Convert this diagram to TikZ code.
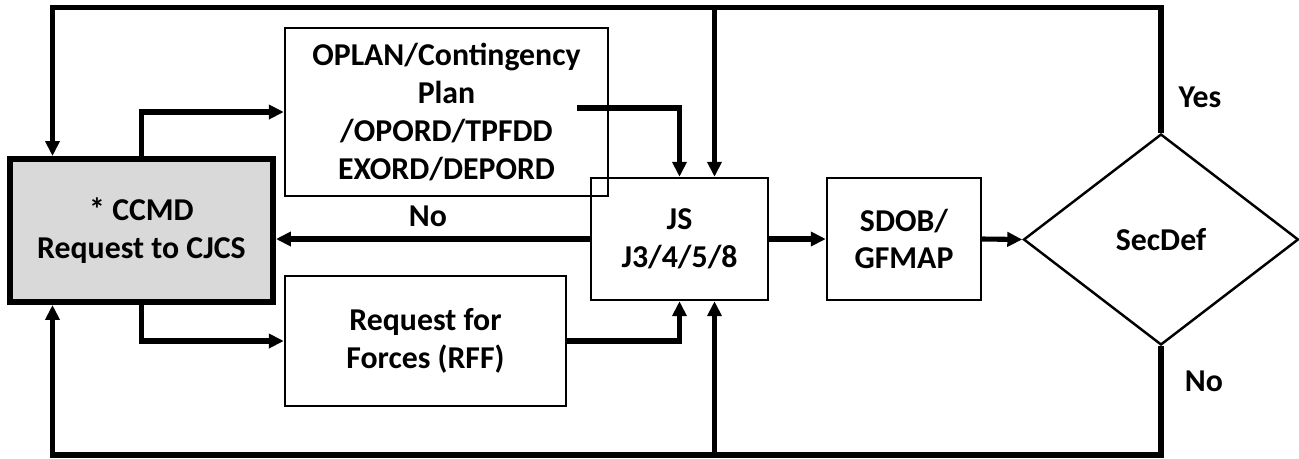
\documentclass[tikz,border=0pt]{standalone}
\usepackage{fontspec}
\setmainfont{Carlito}
\definecolor{ccmdgray}{RGB}{217, 217, 217}
\usetikzlibrary{shapes.geometric, arrows.meta, positioning, calc}
\tikzset{
    stepbox/.style={rectangle, draw=black, line width=1.4pt, fill=white, inner sep=0pt,
                    align=center, font=\bfseries\fontsize{18.1}{21.5}\selectfont},
    ccmdbox/.style={stepbox, fill=ccmdgray, line width=3.4pt},
    decision/.style={diamond, draw=black, line width=1.4pt, inner sep=0pt, aspect=1.3,
                     font=\bfseries\fontsize{18.1}{21.5}\selectfont},
    lbl/.style={font=\bfseries\fontsize{18.1}{21.5}\selectfont},
    arrow/.style={-{Triangle[length=3mm, width=2.8mm]}, line width=2.9pt},
}
\begin{document}
\begin{tikzpicture}[x=0.02cm, y=-0.02cm]
            \useasboundingbox (0,0) rectangle (1299,458);
            % Boxes
            \node[ccmdbox, minimum width=5.26cm, minimum height=2.86cm] (ccmd) at (141.5, 230.5) {* CCMD\\Request to CJCS};
            \node[stepbox, minimum width=6.46cm, minimum height=3.36cm] (oplan) at (446.5, 112) {OPLAN/Contingency\\Plan\\/OPORD/TPFDD\\EXORD/DEPORD};
            \node[stepbox, minimum width=5.62cm, minimum height=2.6cm] (rff) at (425.5, 341) {Request for\\Forces (RFF)};
            \node[stepbox, fill=none, minimum width=3.54cm, minimum height=2.44cm] (js) at (679.5, 239) {JS\\J3/4/5/8};
            \node[stepbox, minimum width=3.08cm, minimum height=2.44cm] (sdob) at (904, 239) {SDOB/\\GFMAP};
            \node[decision, minimum width=5.5cm, minimum height=4.22cm] (secdef) at (1161, 239.5) {SecDef};
            
            % Forward arrows
            \coordinate (planout) at (577, 108);
            \draw[arrow] (ccmd.north) |- (oplan.west);
            \draw[arrow] (ccmd.south) |- (rff.west);
            \draw[arrow] (planout) -| (js.north);
            \draw[arrow] (rff.east) -| (js.south);
            \draw[arrow] (js.west) -- (js.west -| ccmd.east);
            \draw[arrow] (js.east) -- (sdob.west);
            \draw[arrow] (sdob.east) -- (secdef.west);
            
            % Loops back
            \coordinate (topleft) at (52.5, 7.5);
            \coordinate (botleft) at (52.5, 455);
            \coordinate (topjs) at (714.5, 7.5);
            \coordinate (botjs) at (714.5, 455);
            \draw[arrow] (secdef.north) |- (topleft) -- (topleft |- ccmd.north);
            \draw[arrow] (secdef.south) |- (botleft) -- (botleft |- ccmd.south);
            \draw[arrow] (topjs) -- (topjs |- js.north);
            \draw[arrow] (botjs) -- (botjs |- js.south);
            
            % Labels
            \node[lbl] (nojs) at (428, 216) {No};
            \node[lbl] (yes) at (1200, 97) {Yes};
            \node[lbl] (nosec) at (1204, 381) {No};
        \end{tikzpicture}
\end{document}
